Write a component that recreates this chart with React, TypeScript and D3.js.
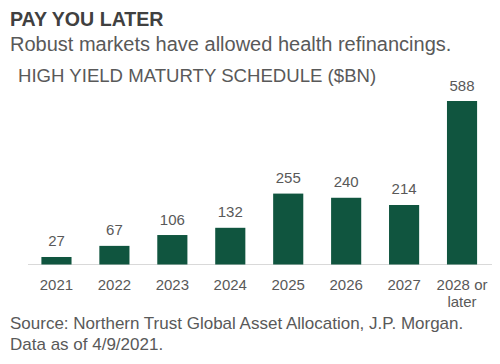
import React, { useEffect, useRef } from 'react';
import * as d3 from 'd3';

const categories = ['2021', '2022', '2023', '2024', '2025', '2026', '2027', '2028 or\nlater'];
const values = [27, 67, 106, 132, 255, 240, 214, 588];

const title = 'PAY YOU LATER';
const subtitle = 'Robust markets have allowed health refinancings.';
const chartTitle = 'HIGH YIELD MATURTY SCHEDULE ($BN)';
const sourceLines = ['Source: Northern Trust Global Asset Allocation, J.P. Morgan.', 'Data as of 4/9/2021.'];

const App = () => {
  const ref = useRef(null);

  useEffect(() => {
    const width = 500;
    const height = 364;
    const font = '"Liberation Sans", Arial, sans-serif';

    d3.select(ref.current).selectAll('*').remove();

    const svg = d3.select(ref.current)
      .append('svg')
      .attr('width', width)
      .attr('height', height)
      .style('position', 'absolute')
      .style('left', '0px')
      .style('top', '0px')
      .style('background', '#fff')
      .style('font-family', font);

    // headings
    svg.append('text')
      .attr('x', 10).attr('y', 26)
      .style('font-size', '19.6px').style('font-weight', 'bold')
      .attr('fill', '#404040')
      .text(title);

    svg.append('text')
      .attr('x', 10).attr('y', 51)
      .style('font-size', '20px')
      .attr('fill', '#595959')
      .text(subtitle);

    svg.append('text')
      .attr('x', 18).attr('y', 82)
      .style('font-size', '18.6px')
      .attr('fill', '#595959')
      .text(chartTitle);

    const x = d3.scaleBand()
      .domain(categories)
      .range([27.5, 491])
      .paddingInner(0.48)
      .paddingOuter(0.24);

    const y = d3.scaleLinear()
      .domain([0, 588])
      .range([264.5, 101]);

    // baseline
    svg.append('line')
      .attr('x1', 28).attr('x2', 492)
      .attr('y1', y(0)).attr('y2', y(0))
      .attr('stroke', '#d9d9d9').attr('stroke-width', 1);

    svg.selectAll('rect.bar')
      .data(values)
      .enter()
      .append('rect')
      .attr('class', 'bar')
      .attr('x', (d, i) => x(categories[i]))
      .attr('y', d => y(d))
      .attr('width', x.bandwidth())
      .attr('height', d => y(0) - y(d))
      .attr('fill', '#10553f');

    svg.selectAll('text.val')
      .data(values)
      .enter()
      .append('text')
      .attr('class', 'val')
      .attr('x', (d, i) => x(categories[i]) + x.bandwidth() / 2)
      .attr('y', d => y(d) - 10.5)
      .attr('text-anchor', 'middle')
      .style('font-size', '15px')
      .attr('fill', '#595959')
      .text(d => d);

    // category labels
    categories.forEach(c => {
      const t = svg.append('text')
        .attr('text-anchor', 'middle')
        .style('font-size', '15px')
        .attr('fill', '#595959');
      c.split('\n').forEach((line, k) => {
        t.append('tspan')
          .attr('x', x(c) + x.bandwidth() / 2)
          .attr('y', 290 + k * 17)
          .text(line);
      });
    });

    sourceLines.forEach((s, k) => {
      svg.append('text')
        .attr('x', 10).attr('y', 329 + k * 21)
        .style('font-size', '17px')
        .attr('fill', '#595959')
        .text(s);
    });
  }, []);

  return <div ref={ref} />;
};

export default App;
